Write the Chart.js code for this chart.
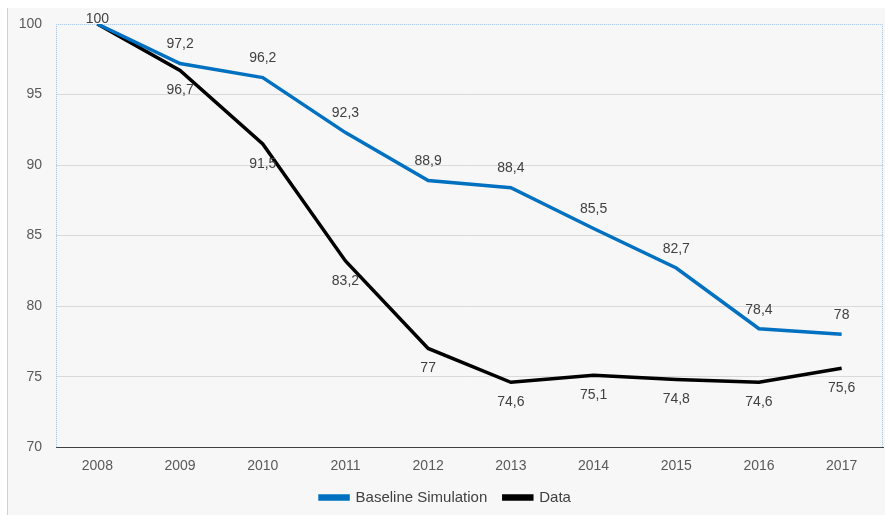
<!DOCTYPE html>
<html><head><meta charset="utf-8">
<script src="https://cdn.jsdelivr.net/npm/chart.js@4"></script>
<style>
html,body{margin:0;padding:0;background:#fff;}
#wrap{position:absolute;left:0;top:0;width:885px;height:515px;}
#bg{position:absolute;left:7px;top:8px;width:878px;height:507px;background:#f7f7f7;border-left:1px solid #bdd7ee;box-sizing:border-box;}
canvas{position:absolute;left:0;top:0;}
</style></head>
<body>
<div id="wrap"><div id="bg"></div><canvas id="c" width="885" height="515"></canvas></div>
<script>
const years = ['2008','2009','2010','2011','2012','2013','2014','2015','2016','2017'];
const baseline = [100, 97.2, 96.2, 92.3, 88.9, 88.4, 85.5, 82.7, 78.4, 78];
const dataSeries = [100, 96.7, 91.5, 83.2, 77, 74.6, 75.1, 74.8, 74.6, 75.6];
const yTicks = [70, 75, 80, 85, 90, 95, 100];

const FONT = '"Liberation Sans", Arial, sans-serif';

const frame = {
  id: 'frame',
  beforeDatasetsDraw(chart) {
    const {ctx, chartArea: a} = chart;
    ctx.save();
    ctx.strokeStyle = '#9dc3e6';
    ctx.lineWidth = 1;
    ctx.setLineDash([1, 1]);
    ctx.beginPath();
    ctx.moveTo(a.left + 0.5, a.bottom);
    ctx.lineTo(a.left + 0.5, a.top + 0.5);
    ctx.lineTo(a.right - 0.5, a.top + 0.5);
    ctx.lineTo(a.right - 0.5, a.bottom);
    ctx.stroke();
    ctx.restore();
  }
};

const labels = {
  id: 'labels',
  afterDatasetsDraw(chart) {
    const ctx = chart.ctx;
    ctx.save();
    ctx.font = '14px ' + FONT;
    ctx.fillStyle = '#404040';
    ctx.textAlign = 'center';
    ctx.textBaseline = 'middle';
    chart.data.datasets.forEach((ds, di) => {
      const meta = chart.getDatasetMeta(di);
      meta.data.forEach((pt, i) => {
        if (di === 1 && i === 0) return;
        const v = ds.data[i];
        const txt = String(v).replace('.', ',');
        let y = di === 0 ? Math.max(pt.y - 19, chart.chartArea.top - 5) : pt.y + 20;
        ctx.fillText(txt, pt.x, y);
      });
    });
    ctx.restore();
  }
};

new Chart(document.getElementById('c'), {
  type: 'line',
  data: {
    labels: years,
    datasets: [
      {label: 'Baseline Simulation', data: baseline, borderColor: '#0070c0', backgroundColor: '#0070c0', borderWidth: 3.5, pointRadius: 0, tension: 0},
      {label: 'Data', data: dataSeries, borderColor: '#000000', backgroundColor: '#000000', borderWidth: 3.5, pointRadius: 0, tension: 0}
    ]
  },
  options: {
    responsive: false,
    animation: false,
    layout: {padding: {left: 8, right: 2, top: 24, bottom: 0}},
    plugins: {
      legend: {
        position: 'bottom',
        labels: {
          boxWidth: 28, boxHeight: 3, padding: 4, color: '#404040', font: {family: FONT, size: 15},
          generateLabels(chart) {
            const items = Chart.defaults.plugins.legend.labels.generateLabels(chart);
            items.forEach((it, i) => { if (i < items.length - 1) it.text = it.text + '   '; });
            return items;
          }
        }
      },
      tooltip: {enabled: false}
    },
    scales: {
      x: {
        offset: true,
        grid: {display: false, drawTicks: false},
        border: {display: true, color: '#404040', width: 1},
        ticks: {color: '#595959', font: {family: FONT, size: 14}, padding: 11}
      },
      y: {
        min: 70, max: 100,
        afterFit(s) { s.width = 48; },
        afterBuildTicks(s) { s.ticks = yTicks.map(v => ({value: v})); },
        grid: {drawTicks: false, color: ctx => (ctx.tick && ctx.tick.value === 100) ? 'rgba(0,0,0,0)' : '#d9d9d9'},
        border: {display: false},
        ticks: {color: '#595959', font: {family: FONT, size: 14}, padding: 14}
      }
    }
  },
  plugins: [frame, labels]
});
</script>
</body></html>
